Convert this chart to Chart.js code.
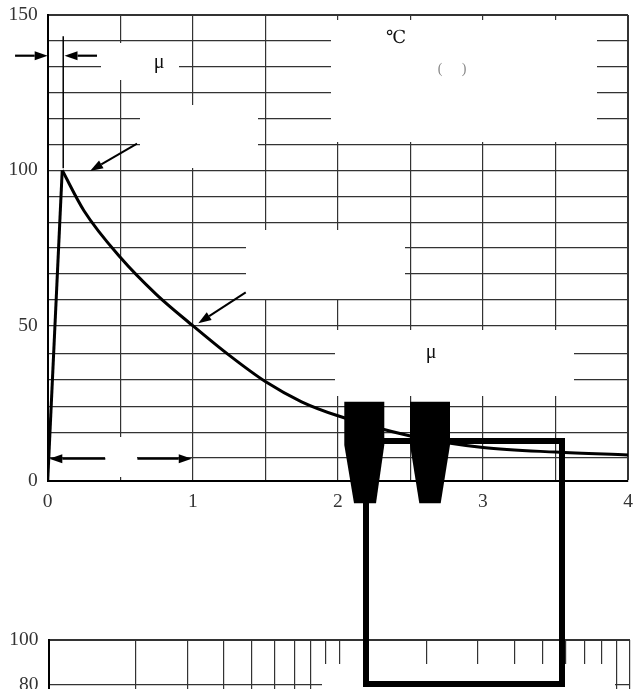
<!DOCTYPE html>
<html>
<head>
<meta charset="utf-8">
<script src="https://cdn.jsdelivr.net/npm/chart.js@4.4.0/dist/chart.umd.min.js"></script>
<style>
  html, body { margin: 0; padding: 0; background: #fff; overflow: hidden; width: 633px; height: 689px; }
  #lower { position: absolute; left: 0; top: 620px; }
  #main { position: absolute; left: 0; top: 0; }
</style>
</head>
<body>
<canvas id="lower" width="633" height="260"></canvas>
<canvas id="main" width="633" height="689"></canvas>
<script>
// waveform: front (straight rise) and tail (decay), values in %
const riseTime = [0, 0.1];
const riseValue = [0, 100];
const decayTime = [0.1, 0.25, 0.5, 0.75, 1.0, 1.25, 1.5, 1.75, 2.0, 2.5, 3.0, 3.5, 4.0];
const decayValue = [100, 87, 72, 60, 50, 40.5, 32, 25.5, 21, 14.5, 10.8, 9.3, 8.4];

// main axes
const xGridValues = [0, 0.5, 1, 1.5, 2, 2.5, 3, 3.5, 4];
const xTickLabels = ['0', '1', '2', '3', '4'];
const yGridValues = [0, 7.5, 15.5, 24, 32.5, 41, 50, 58.3, 66.7, 75, 83.3, 91.7, 100, 108.3, 116.7, 125, 133.3, 141.7, 150];
const yLabelValues = [0, 50, 100, 150];
const yTickLabels = ['0', '50', '100', '150'];

// lower (log) chart axes
const freqGridValues = [1, 2, 3, 4, 5, 6, 7, 8, 9, 10, 20, 30, 40, 50, 60, 70, 80, 90, 100];
const lowerYValues = [0, 20, 40, 60, 80, 100];
const lowerYLabels = ['0', '20', '40', '60', '80', '100'];

const FONT = '"Liberation Serif", "DejaVu Serif", serif';
const INK = '#000';
const GRID = '#333';

function arrow(ctx, x1, y1, x2, y2, lw) {
  const a = Math.atan2(y2 - y1, x2 - x1);
  const hl = 13, hw = 4.5;
  const bx = x2 - hl * Math.cos(a), by = y2 - hl * Math.sin(a);
  ctx.strokeStyle = INK;
  ctx.fillStyle = INK;
  ctx.lineWidth = lw || 2;
  ctx.beginPath();
  ctx.moveTo(x1, y1);
  ctx.lineTo(bx, by);
  ctx.stroke();
  ctx.beginPath();
  ctx.moveTo(x2, y2);
  ctx.lineTo(bx + hw * Math.sin(a), by - hw * Math.cos(a));
  ctx.lineTo(bx - hw * Math.sin(a), by + hw * Math.cos(a));
  ctx.closePath();
  ctx.fill();
}

// blank patches where the original text was lifted out
const whiteouts = {
  id: 'whiteouts',
  beforeDatasetsDraw(chart) {
    const ctx = chart.ctx;
    ctx.save();
    ctx.fillStyle = '#fff';
    ctx.fillRect(101, 43, 78, 37);
    ctx.fillRect(140, 105, 118, 63);
    ctx.fillRect(331, 20, 266, 122);
    ctx.fillRect(246, 230, 159, 69);
    ctx.fillRect(335, 330, 239, 66);
    ctx.fillRect(105, 437, 32, 40);
    ctx.restore();
  }
};

const notes = {
  id: 'notes',
  afterDraw(chart) {
    const ctx = chart.ctx;
    const xs = chart.scales.x, ys = chart.scales.y;
    const X = v => xs.getPixelForValue(v), Y = v => ys.getPixelForValue(v);
    ctx.save();

    // front-time marker
    ctx.strokeStyle = INK;
    ctx.lineWidth = 1.5;
    ctx.beginPath();
    ctx.moveTo(X(0.107), Y(143.2));
    ctx.lineTo(X(0.107), Y(100.7));
    ctx.stroke();
    arrow(ctx, X(-0.225), Y(136.9), X(0), Y(136.9), 2.2);
    arrow(ctx, X(0.34), Y(136.9), X(0.116), Y(136.9), 2.2);

    // pointers to peak and half value
    arrow(ctx, X(0.616), Y(108.6), X(0.292), Y(99.8), 2);
    arrow(ctx, X(1.365), Y(60.7), X(1.038), Y(50.8), 2);

    // half-value time span
    arrow(ctx, X(0.397), Y(7.2), X(0.011), Y(7.2), 2);
    arrow(ctx, X(0.6185), Y(7.2), X(0.993), Y(7.2), 2);

    ctx.fillStyle = '#111';
    ctx.textAlign = 'center';
    ctx.textBaseline = 'middle';
    ctx.font = '20px ' + FONT;
    ctx.fillText('μ', 159, 63);
    ctx.fillText('μ', 431, 353);
    ctx.font = '18px ' + FONT;
    ctx.fillText('℃', 396, 38);
    ctx.fillStyle = '#888';
    ctx.font = '14px ' + FONT;
    ctx.fillText('(', 440, 69);
    ctx.fillText(')', 464, 69);

    // overlaid block shapes
    ctx.fillStyle = INK;
    ctx.strokeStyle = INK;
    ctx.lineWidth = 6;
    ctx.strokeRect(366, 441, 196, 243);
    [[344.3, 384.3, 354, 376], [410, 450, 419.3, 440.7]].forEach(f => {
      ctx.beginPath();
      ctx.moveTo(f[0], 401.7);
      ctx.lineTo(f[1], 401.7);
      ctx.lineTo(f[1], 445);
      ctx.lineTo(f[3], 503.3);
      ctx.lineTo(f[2], 503.3);
      ctx.lineTo(f[0], 445);
      ctx.closePath();
      ctx.fill();
    });
    ctx.restore();
  }
};

const lowerWhiteout = {
  id: 'lowerWhiteout',
  afterDraw(chart) {
    const ctx = chart.ctx;
    ctx.save();
    ctx.fillStyle = '#fff';
    ctx.fillRect(322, 44, 293, 40);
    ctx.restore();
  }
};

new Chart(document.getElementById('lower'), {
  type: 'scatter',
  data: { datasets: [] },
  options: {
    responsive: false,
    animation: false,
    layout: { padding: { left: 0, top: 20, right: 3, bottom: 7.5 } },
    plugins: { legend: { display: false }, tooltip: { enabled: false } },
    scales: {
      x: {
        type: 'logarithmic', min: 1, max: 100,
        afterBuildTicks: s => { s.ticks = freqGridValues.map(v => ({ value: v })); },
        ticks: { display: false },
        grid: { color: GRID, lineWidth: 1.2, drawTicks: false },
        border: { color: INK, width: 2 },
        afterFit: s => { s.height = 10; s.paddingLeft = 0; s.paddingRight = 0; }
      },
      y: {
        min: 0, max: 100,
        afterBuildTicks: s => { s.ticks = lowerYValues.map(v => ({ value: v })); },
        ticks: {
          padding: 10, color: '#333', font: { family: FONT, size: 19.5 },
          callback: v => lowerYLabels[lowerYValues.indexOf(v)]
        },
        grid: { color: GRID, lineWidth: c => c.tick && c.tick.value === 100 ? 2 : 1.2, drawTicks: false },
        border: { color: INK, width: 2 },
        afterFit: s => { s.width = 48.5; s.paddingTop = 0; s.paddingBottom = 0; }
      }
    }
  },
  plugins: [lowerWhiteout]
});

new Chart(document.getElementById('main'), {
  type: 'scatter',
  data: {
    datasets: [
      {
        data: riseTime.map((t, i) => ({ x: t, y: riseValue[i] })),
        showLine: true, borderColor: INK, borderWidth: 3, pointRadius: 0
      },
      {
        data: decayTime.map((t, i) => ({ x: t, y: decayValue[i] })),
        showLine: true, borderColor: INK, borderWidth: 3, pointRadius: 0,
        cubicInterpolationMode: 'monotone'
      }
    ]
  },
  options: {
    responsive: false,
    animation: false,
    layout: { padding: { left: 0, top: 15, right: 5, bottom: 178 } },
    plugins: { legend: { display: false }, tooltip: { enabled: false } },
    scales: {
      x: {
        type: 'linear', min: 0, max: 4,
        afterBuildTicks: s => { s.ticks = xGridValues.map(v => ({ value: v })); },
        ticks: {
          autoSkip: false, maxRotation: 0, padding: 9, color: '#333',
          font: { family: FONT, size: 19.5 },
          callback: v => Number.isInteger(v) ? xTickLabels[v] : ''
        },
        grid: { color: GRID, lineWidth: c => c.tick && c.tick.value === 4 ? 2 : 1.2, drawTicks: false },
        border: { color: INK, width: 2 },
        afterFit: s => { s.height = 30; s.paddingLeft = 0; s.paddingRight = 0; }
      },
      y: {
        min: 0, max: 150,
        afterBuildTicks: s => { s.ticks = yGridValues.map(v => ({ value: v })); },
        ticks: {
          autoSkip: false, padding: 10, color: '#333',
          font: { family: FONT, size: 19.5 },
          callback: v => { const i = yLabelValues.indexOf(v); return i < 0 ? '' : yTickLabels[i]; }
        },
        grid: { color: GRID, lineWidth: c => c.tick && c.tick.value === 150 ? 2 : 1.2, drawTicks: false },
        border: { color: INK, width: 2 },
        afterFit: s => { s.width = 47.7; s.paddingTop = 0; s.paddingBottom = 0; }
      }
    }
  },
  plugins: [whiteouts, notes]
});
</script>
</body>
</html>
